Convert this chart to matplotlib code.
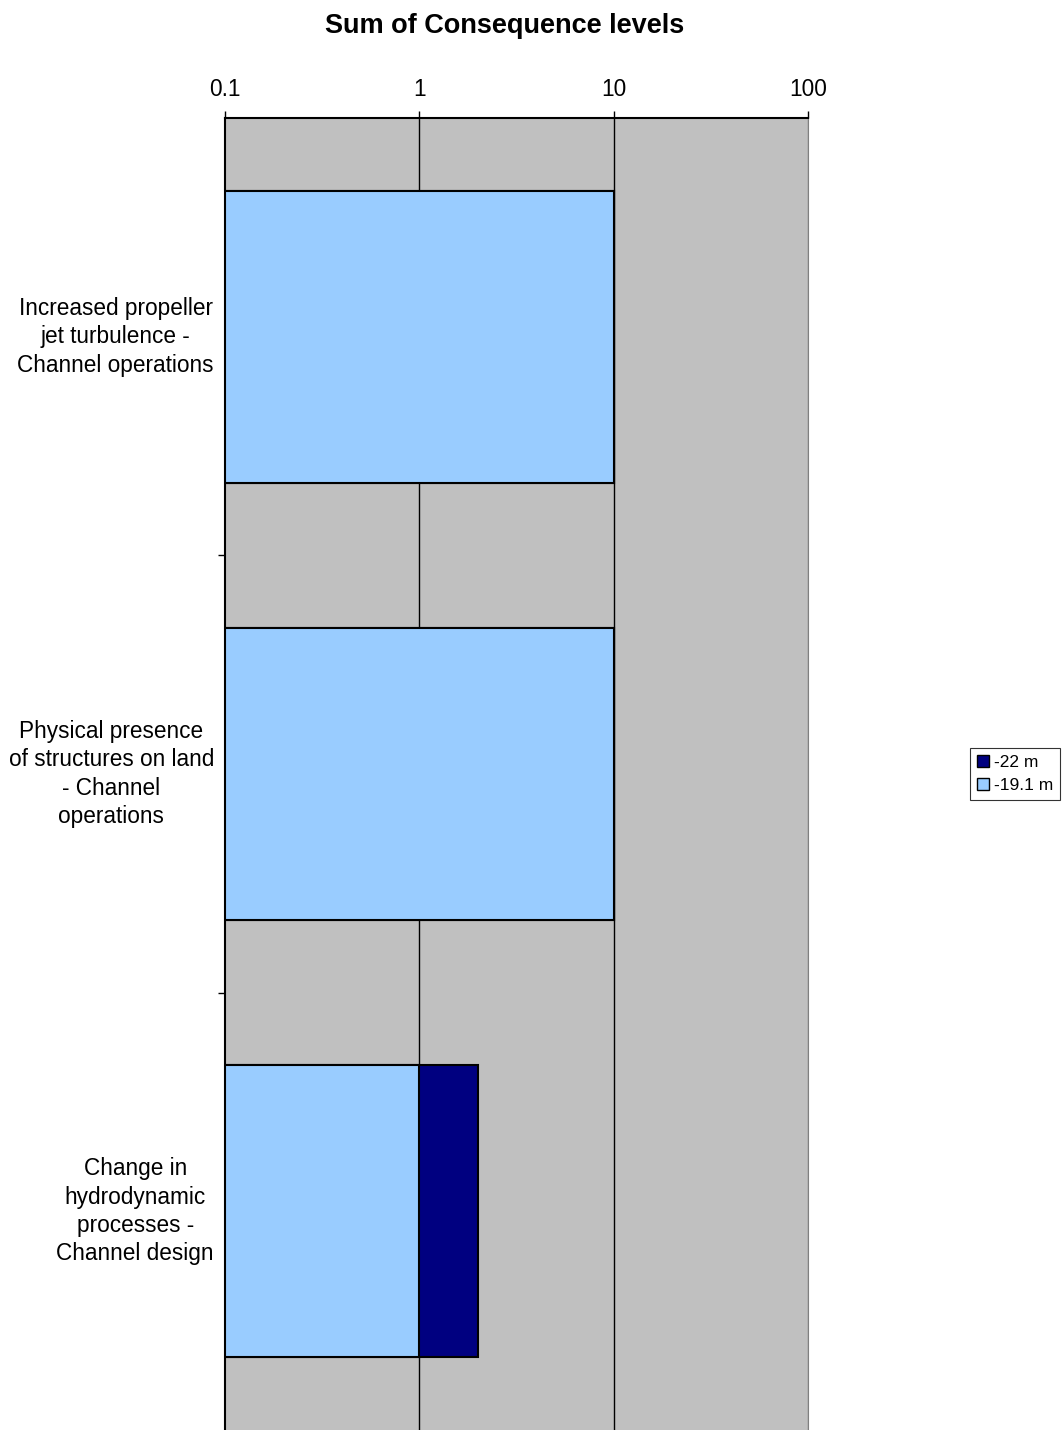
import matplotlib
matplotlib.use("Agg")
import matplotlib.pyplot as plt
from matplotlib.patches import Patch
import numpy as np

plt.rcParams['font.family'] = ['Liberation Sans', 'DejaVu Sans']

categories = ["Increased propeller\njet turbulence -\nChannel operations",
              "Physical presence\nof structures on land\n- Channel\noperations",
              "Change in\nhydrodynamic\nprocesses -\nChannel design"]
series_names = ["-22 m", "-19.1 m"]
vals_22 = [10, 10, 2]
vals_191 = [10, 10, 1]
colors = {"-22 m": "#000080", "-19.1 m": "#99CCFF"}
xticks = [0.1, 1, 10, 100]
xticklabels = ["0.1", "1", "10", "100"]

fig = plt.figure(figsize=(10.63, 14.30), dpi=100)
ax = fig.add_axes([225/1063, 0.0, (808-225)/1063, 1-118/1430])
ax.set_facecolor("#C0C0C0")
ax.set_xscale("log")
ax.set_xlim(0.1, 100)
ax.set_ylim(2.5, -0.5)

y = np.arange(len(categories))
h = 0.667
ax.barh(y, np.array(vals_22) - 0.1, left=0.1, height=h, color=colors["-22 m"],
        edgecolor="black", linewidth=1.5, zorder=3)
ax.barh(y, np.array(vals_191) - 0.1, left=0.1, height=h, color=colors["-19.1 m"],
        edgecolor="black", linewidth=1.5, zorder=4)

for xv in xticks[1:]:
    ax.axvline(xv, color="black" if xv < 100 else "#808080", linewidth=1, zorder=2)

ax.xaxis.tick_top()
ax.set_xticks(xticks)
ax.set_xticklabels(xticklabels, fontsize=16.3)
ax.minorticks_off()
ax.tick_params(axis="x", which="major", direction="out", length=5, width=1, pad=7)

ax.set_yticks([0.5, 1.5])
ax.set_yticklabels([])
ax.tick_params(axis="y", which="major", direction="out", length=5, width=1)
for i, c in enumerate(categories):
    ax.text(-0.019, i, c, transform=ax.get_yaxis_transform(), ha="right", va="center",
            multialignment="center", fontsize=16.3, linespacing=1.30)

for s in ["top", "left"]:
    ax.spines[s].set_color("black")
    ax.spines[s].set_linewidth(1.5)
ax.spines["right"].set_color("#808080")
ax.spines["bottom"].set_visible(False)

fig.text(505/1063, 1-26/1430, "Sum of Consequence levels", ha="center", va="center",
         fontsize=19.5, fontweight="bold")

handles = [Patch(facecolor=colors[n], edgecolor="black", label=n) for n in series_names]
leg = fig.legend(handles=handles, loc="center", bbox_to_anchor=(1015/1063, 1-774/1430),
                 fontsize=12.5, frameon=True, fancybox=False, edgecolor="black",
                 handlelength=0.7, handleheight=0.7, handletextpad=0.3,
                 borderpad=0.4, labelspacing=0.5, borderaxespad=0)
leg.get_frame().set_linewidth(0.8)

fig.savefig("out.png", dpi=100)
